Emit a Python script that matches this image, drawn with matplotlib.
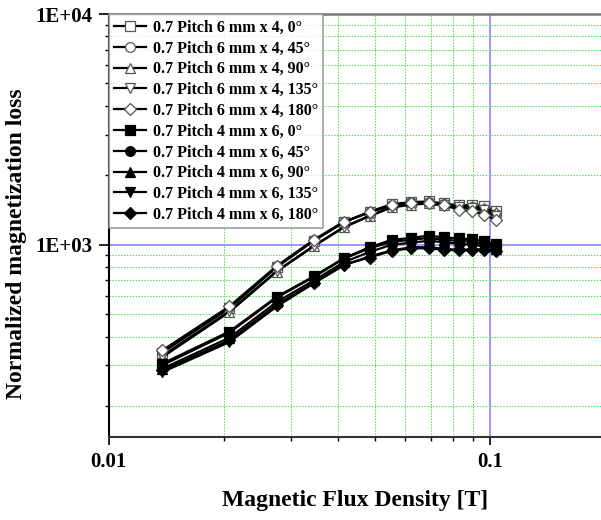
#!/usr/bin/env python3
import math
import matplotlib
matplotlib.use("Agg")
import matplotlib.pyplot as plt
from matplotlib.ticker import LogLocator, FuncFormatter, NullFormatter

# Magnetic flux density [T]
flux = [0.0138, 0.0207, 0.0276, 0.0345, 0.0414, 0.0483, 0.0552,
        0.0621, 0.0690, 0.0759, 0.0828, 0.0897, 0.0966, 0.1035]

labels = [
    "0.7 Pitch 6 mm x 4, 0°",
    "0.7 Pitch 6 mm x 4, 45°",
    "0.7 Pitch 6 mm x 4, 90°",
    "0.7 Pitch 6 mm x 4, 135°",
    "0.7 Pitch 6 mm x 4, 180°",
    "0.7 Pitch 4 mm x 6, 0°",
    "0.7 Pitch 4 mm x 6, 45°",
    "0.7 Pitch 4 mm x 6, 90°",
    "0.7 Pitch 4 mm x 6, 135°",
    "0.7 Pitch 4 mm x 6, 180°",
]

# 6 mm x 4
p6_0 = [340, 530, 800, 1040, 1250, 1390, 1500, 1530, 1540, 1510, 1480, 1490, 1470, 1400]
p6_45 = [345, 535, 805, 1045, 1255, 1385, 1490, 1525, 1530, 1500, 1460, 1460, 1430, 1360]
p6_90 = [325, 510, 765, 985, 1190, 1330, 1450, 1490, 1510, 1490, 1470, 1470, 1440, 1380]
p6_135 = [330, 515, 770, 990, 1195, 1335, 1455, 1500, 1505, 1480, 1450, 1440, 1410, 1330]
p6_180 = [348, 540, 810, 1050, 1260, 1380, 1480, 1510, 1515, 1480, 1420, 1395, 1350, 1280]

# 4 mm x 6
p4_0 = [305, 420, 595, 730, 875, 975, 1050, 1070, 1095, 1075, 1065, 1055, 1035, 1005]
p4_45 = [300, 415, 590, 725, 870, 965, 1030, 1050, 1070, 1050, 1040, 1030, 1010, 985]
p4_90 = [290, 395, 565, 700, 840, 930, 1000, 1020, 1040, 1025, 1010, 1000, 985, 960]
p4_135 = [280, 378, 540, 680, 815, 890, 945, 975, 975, 960, 950, 955, 955, 940]
p4_180 = [285, 385, 550, 685, 820, 880, 940, 965, 965, 950, 945, 945, 950, 935]

series = [p6_0, p6_45, p6_90, p6_135, p6_180, p4_0, p4_45, p4_90, p4_135, p4_180]
markers = ["s", "o", "^", "v", "D"] * 2
fills = ["white"] * 5 + ["black"] * 5

plt.rcParams["font.family"] = ["Liberation Serif", "DejaVu Serif"]
plt.rcParams["font.weight"] = "bold"

fig = plt.figure(figsize=(6.01, 5.2), dpi=100)
ax = fig.add_axes([0.181, 0.160, 0.819, 0.813])

for ys, lab, m, fc in zip(series, labels, markers, fills):
    ms = 6.5 if m == "D" else 7
    ax.plot(flux, ys, color="black", lw=1.6, marker=m, ms=ms,
            markerfacecolor=fc, markeredgecolor="black" if fc == "black" else "#555555",
            markeredgewidth=0.9, label=lab)

ax.set_xscale("log")
ax.set_yscale("log")
ax.set_xlim(0.01, 0.1955)
ax.set_ylim(147, 10000)

ax.xaxis.set_major_locator(LogLocator(base=10, numticks=10))
ax.xaxis.set_minor_locator(LogLocator(base=10, subs=range(2, 10), numticks=20))
ax.yaxis.set_major_locator(LogLocator(base=10, numticks=10))
ax.yaxis.set_minor_locator(LogLocator(base=10, subs=range(2, 10), numticks=20))
ax.xaxis.set_major_formatter(FuncFormatter(lambda v, p: "%g" % v))
ax.yaxis.set_major_formatter(FuncFormatter(lambda v, p: "1E+%02d" % round(math.log10(v))))
ax.xaxis.set_minor_formatter(NullFormatter())
ax.yaxis.set_minor_formatter(NullFormatter())

ax.grid(which="minor", color="#44e044", linestyle=(0, (1.5, 1.5)), lw=0.7)
ax.grid(which="major", color="#8888ff", linestyle="-", lw=1.2)
ax.set_axisbelow(True)

ax.tick_params(which="major", direction="out", length=6, width=1.2, labelsize=15, pad=5)
ax.tick_params(which="minor", direction="out", length=3, width=1)
ax.tick_params(axis="y", which="major", length=7)

ax.spines["right"].set_visible(False)
ax.spines["top"].set_color("#777777")
ax.spines["top"].set_linewidth(1.8)
ax.spines["bottom"].set_color("#333333")
ax.spines["bottom"].set_linewidth(1.5)
ax.spines["left"].set_linewidth(1.5)

ax.set_xlabel("Magnetic Flux Density [T]", fontsize=17, fontweight="bold", labelpad=13)
ax.set_ylabel("Normalized magnetization loss", fontsize=17, fontweight="bold")
ax.yaxis.set_label_coords(-0.167, 0.457)

leg = ax.legend(loc="upper left", frameon=True, fancybox=False,
                borderaxespad=0, handlelength=2.0, handletextpad=0.4,
                labelspacing=0.3, borderpad=0.35, prop={"weight": "bold", "size": 11.5})
leg.get_frame().set_edgecolor("#888888")
leg.get_frame().set_linewidth(1.2)

fig.savefig("out.png", dpi=100)
